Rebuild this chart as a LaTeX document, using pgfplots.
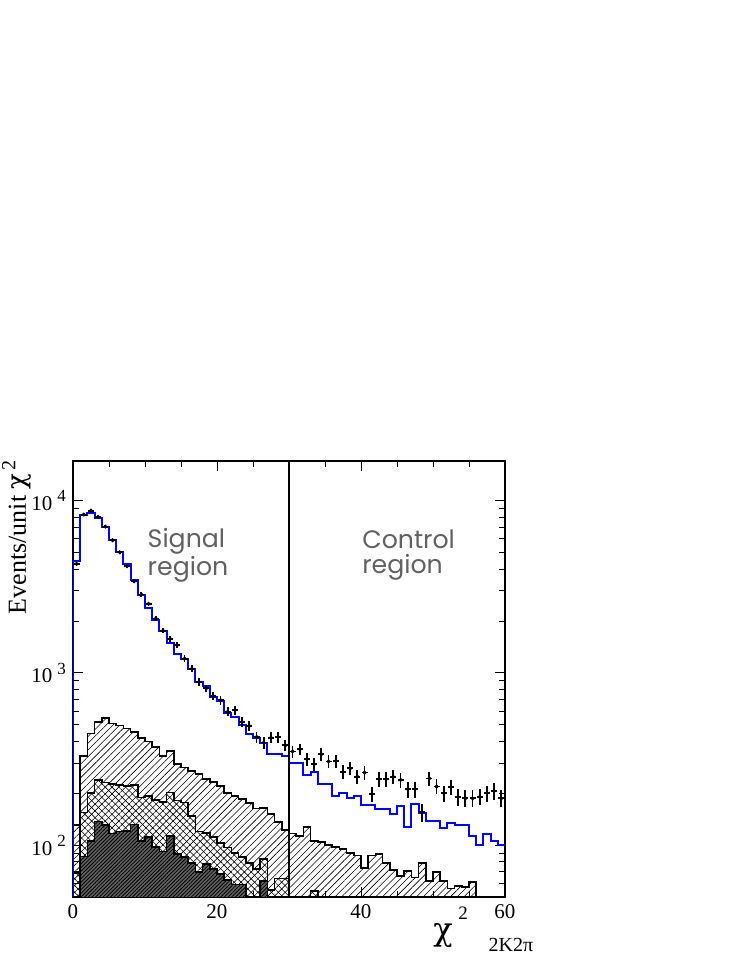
\documentclass[border=0pt]{standalone}
\usepackage{fontspec}
\setmainfont{Liberation Serif}
\newfontfamily\regionfont{Poppins}
\newfontfamily\chifont{DejaVu Serif}
\usepackage{pgfplots}
\pgfplotsset{compat=1.18}
\usetikzlibrary{patterns.meta}

\begin{document}
\begin{tikzpicture}
% page = 747x967 px at 0.5pt/px, axis box at px (73..505, 461..897)
\useasboundingbox (-36.5pt,-35pt) rectangle (337pt,448.5pt);
\begin{axis}[at={(0,0)},anchor=south west,scale only axis,
  width=216pt,height=218pt,
  ymode=log,xmin=0,xmax=60,ymin=50,ymax=17000,
  axis line style={line width=0.7pt},
  xtick={0,20,40,60},minor x tick num=3,
  ytick={100,1000,10000},
  minor ytick={60,70,80,90,200,300,400,500,600,700,800,900,2000,3000,4000,5000,6000,7000,8000,9000},
  yticklabels={10\hspace{2.5pt}\raisebox{0.9ex}{\fontsize{8.5}{8}\selectfont 2},
               10\hspace{2.5pt}\raisebox{0.9ex}{\fontsize{8.5}{8}\selectfont 3},
               10\hspace{2.5pt}\raisebox{0.9ex}{\fontsize{8.5}{8}\selectfont 4}},
  /pgf/number format/assume math mode=true,
  tick label style={font=\fontsize{10.5}{12}\selectfont},
  tick style={black,line width=0.45pt},
  major tick length=5pt,minor tick length=2.8pt,
  tick align=inside]

% total background (single hatch)
\addplot[const plot,draw=black,line width=0.85pt,pattern color=black,
  pattern={Lines[angle=45,distance=2.4pt,line width=0.3pt]}]
coordinates {(0,131) (1,330) (2,445) (3,518) (4,548) (5,508) (6,495) (7,475)
(8,453) (9,420) (10,400) (11,372) (12,328) (13,352) (14,295) (15,282) (16,270)
(17,258) (18,242) (19,233) (20,221) (21,200) (22,193) (23,185) (24,175) (25,163)
(26,165) (27,151) (28,136) (29,123) (30,117) (31,113) (32,127) (33,106) (34,104)
(35,100) (36,98) (37,95) (38,90) (39,87) (40,74) (41,87) (42,89) (43,79) (44,72)
(45,66) (46,71) (47,65) (48,79) (49,62) (50,70) (51,62) (52,56) (53,58) (54,57)
(55,61) (56,61)} \closedcycle;

% second component (cross hatch over the first)
\addplot[const plot,draw=black,line width=0.85pt,pattern color=black,
  pattern={Lines[angle=-45,distance=2.4pt,line width=0.3pt]}]
coordinates {(0,69) (1,155) (2,200) (3,239) (4,231) (5,226) (6,224) (7,221)
(8,223) (9,189) (10,193) (11,183) (12,178) (13,202) (14,182) (15,177) (16,148)
(17,120) (18,118) (19,111) (20,103) (21,97) (22,90) (23,85) (24,79) (25,73)
(26,83) (27,55) (28,64) (29,64) (30,1) (31,1) (32,1) (33,54) (34,54)} \closedcycle;

% third component (dark)
\addplot[const plot,draw=black,line width=0.85pt,fill=black!62,
  postaction={pattern color=black,pattern={Lines[angle=45,distance=1.3pt,line width=0.4pt]}}]
coordinates {(0,1) (1,86) (2,106) (3,137) (4,131) (5,117) (6,120) (7,121)
(8,132) (9,106) (10,112) (11,98) (12,92) (13,113) (14,89) (15,85) (16,79)
(17,70) (18,78) (19,73) (20,68) (21,63) (22,59) (23,59) (24,1) (25,1) (26,62)
(27,62)} \closedcycle;

% total simulation
\addplot[const plot,blue,line width=1pt]
coordinates {(0,1) (0,4490) (1,8300) (2,8490) (3,7940) (4,7000) (5,5940)
(6,5015) (7,4310) (8,3485) (9,2850) (10,2387) (11,2015) (12,1747) (13,1496)
(14,1292) (15,1197) (16,1050) (17,885) (18,838) (19,728) (20,687) (21,588)
(22,555) (23,497) (24,440) (25,421) (26,394) (27,340) (28,337) (29,330)
(30,301) (31,298) (32,255) (33,266) (34,226) (35,226) (36,193) (37,202)
(38,187) (39,192) (40,171) (41,171) (42,163) (43,163) (44,151) (45,169)
(46,128) (47,173) (48,153) (49,138) (50,138) (51,125) (52,134) (53,131)
(54,131) (55,113) (56,100) (57,116) (58,106) (59,100) (60,100)};

% data
\addplot[only marks,mark=*,mark size=0.8pt,black,
  error bars/.cd,x dir=both,x explicit,y dir=both,y explicit,
  error mark=none,error bar style={line width=0.9pt,black}]
coordinates {
(0.5,4300) +- (0.42,100) (1.5,8300) +- (0.42,136) (2.5,8750) +- (0.42,140)
(3.5,8050) +- (0.42,135) (4.5,7070) +- (0.42,126) (5.5,5890) +- (0.42,115)
(6.5,5015) +- (0.42,106) (7.5,4160) +- (0.42,97) (8.5,3400) +- (0.42,87)
(9.5,2850) +- (0.42,80) (10.5,2520) +- (0.42,75) (11.5,2070) +- (0.42,68)
(12.5,1760) +- (0.42,63) (13.5,1580) +- (0.42,60) (14.5,1450) +- (0.42,57)
(15.5,1210) +- (0.42,52) (16.5,1058) +- (0.42,49) (17.5,885) +- (0.42,45)
(18.5,813) +- (0.42,43) (19.5,733) +- (0.42,41) (20.5,695) +- (0.42,40)
(21.5,596) +- (0.42,37) (22.5,608) +- (0.42,37) (23.5,518) +- (0.42,34)
(24.5,492) +- (0.42,33) (25.5,425) +- (0.42,31) (26.5,394) +- (0.42,30)
(27.5,421) +- (0.42,31) (28.5,425) +- (0.42,31) (29.5,380) +- (0.42,29)
(30.5,350) +- (0.42,28) (31.5,360) +- (0.42,28) (32.5,316) +- (0.42,27)
(33.5,295) +- (0.42,26) (34.5,337) +- (0.42,28) (35.5,306) +- (0.42,26)
(36.5,308) +- (0.42,26) (37.5,266) +- (0.42,24) (38.5,279) +- (0.42,25)
(39.5,250) +- (0.42,24) (40.5,264) +- (0.42,24) (41.5,198) +- (0.42,21)
(42.5,242) +- (0.42,23) (43.5,242) +- (0.42,23) (44.5,249) +- (0.42,24)
(45.5,239) +- (0.42,23) (46.5,211) +- (0.42,22) (47.5,211) +- (0.42,22)
(48.5,155) +- (0.42,19) (49.5,244) +- (0.42,23) (50.5,219) +- (0.42,22)
(51.5,200) +- (0.42,21) (52.5,218) +- (0.42,22) (53.5,190) +- (0.42,21)
(54.5,187) +- (0.42,21) (55.5,187) +- (0.42,21) (56.5,191) +- (0.42,21)
(57.5,200) +- (0.42,21) (58.5,206) +- (0.42,22) (59.5,187) +- (0.42,21)};

% signal / control boundary
\addplot[black,line width=0.75pt] coordinates {(30,50) (30,17000)};

\node[anchor=north west,align=left,text=black!62,
  font=\regionfont\fontsize{12.6}{12.5}\selectfont]
  at (axis cs:9.4,7600) {Signal\\region};
\node[anchor=north west,align=left,text=black!62,
  font=\regionfont\fontsize{12.6}{12.5}\selectfont]
  at (axis cs:39.2,7400) {Control\\region};
\end{axis}

\node[rotate=90,anchor=base east,font=\fontsize{13}{14}\selectfont]
  at (-23.5pt,222pt) {Events/unit {\chifont χ}\raisebox{0.9ex}{\fontsize{10}{10}\selectfont\,2}};
\node[font=\chifont\fontsize{16}{16}\selectfont] at (185pt,-19.5pt) {χ};
\node[font=\fontsize{9.5}{9.5}\selectfont] at (195pt,-8pt) {2};
\node[font=\fontsize{10}{10}\selectfont] at (219pt,-24pt) {2K2π};
\end{tikzpicture}
\end{document}
